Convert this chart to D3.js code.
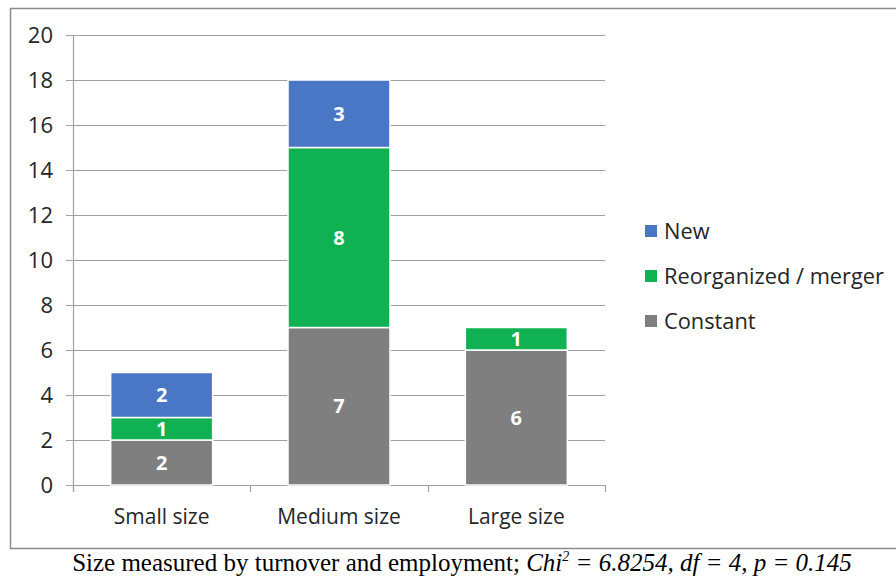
<!DOCTYPE html>
<html>
<head>
<meta charset="utf-8">
<script src="https://cdn.jsdelivr.net/npm/d3@7"></script>
<style>
  body { margin: 0; background: #fff; }
  text { font-family: "Open Sans", "Noto Sans", sans-serif; }
</style>
</head>
<body>
<svg id="chart" width="896" height="576"></svg>
<script>
// data
var categories = ["Small size", "Medium size", "Large size"];
var seriesNames = ["Constant", "Reorganized / merger", "New"];
var constantVals = [2, 7, 6];
var reorgVals = [1, 8, 1];
var newVals = [2, 3, 0];
var yTicks = [0, 2, 4, 6, 8, 10, 12, 14, 16, 18, 20];
var colors = ["#7f7f7f", "#0fb152", "#4a76c6"];

var svg = d3.select("#chart");

// outer frame (right side runs off the page)
svg.append("path")
    .attr("d", "M 900 8.5 L 10.5 8.5 L 10.5 548.5 L 900 548.5")
    .attr("fill", "none")
    .attr("stroke", "#8c8c8c")
    .attr("stroke-width", 1.5);

var plotLeft = 73, plotRight = 605, plotTop = 35, plotBottom = 485;

var x = d3.scaleBand().domain(categories).range([plotLeft, plotRight]).paddingInner(0.425).paddingOuter(0.2125);
var y = d3.scaleLinear().domain([0, 20]).range([plotBottom, plotTop]);

// gridlines
svg.append("g").selectAll("line")
    .data(yTicks)
    .enter().append("line")
    .attr("x1", plotLeft - 7).attr("x2", plotRight)
    .attr("y1", function(d){ return Math.round(y(d)) + 0.5; })
    .attr("y2", function(d){ return Math.round(y(d)) + 0.5; })
    .attr("stroke", "#a0a0a0")
    .attr("stroke-width", 1.2);

// y labels
svg.append("g").selectAll("text")
    .data(yTicks)
    .enter().append("text")
    .attr("x", 53)
    .attr("y", function(d){ return y(d); })
    .attr("dy", "0.36em")
    .attr("text-anchor", "end")
    .attr("font-size", 22)
    .attr("fill", "#262626")
    .text(function(d){ return d; });

// stack
var rows = categories.map(function(c, i){
    return { cat: c, Constant: constantVals[i], "Reorganized / merger": reorgVals[i], New: newVals[i] };
});
var stack = d3.stack().keys(seriesNames)(rows);

var layers = svg.append("g").selectAll("g")
    .data(stack)
    .enter().append("g")
    .attr("fill", function(d, i){ return colors[i]; });

layers.selectAll("rect")
    .data(function(d){ return d.filter(function(p){ return p[1] > p[0]; }); })
    .enter().append("rect")
    .attr("x", function(d){ return x(d.data.cat); })
    .attr("width", x.bandwidth())
    .attr("y", function(d){ return y(d[1]); })
    .attr("height", function(d){ return y(d[0]) - y(d[1]); })
    .attr("stroke", "#ffffff")
    .attr("stroke-width", 1.5);

layers.selectAll("text")
    .data(function(d){ return d.filter(function(p){ return p[1] > p[0]; }); })
    .enter().append("text")
    .attr("x", function(d){ return x(d.data.cat) + x.bandwidth() / 2; })
    .attr("y", function(d){ return (y(d[0]) + y(d[1])) / 2; })
    .attr("dy", "0.36em")
    .attr("text-anchor", "middle")
    .attr("font-size", 20)
    .attr("font-weight", "bold")
    .attr("fill", "#ffffff")
    .text(function(d){ return d[1] - d[0]; });

// axes lines
svg.append("line")
    .attr("x1", plotLeft + 0.5).attr("x2", plotLeft + 0.5)
    .attr("y1", plotTop).attr("y2", plotBottom + 7)
    .attr("stroke", "#a0a0a0").attr("stroke-width", 1.2);

var bandEdges = [0, 1, 2, 3].map(function(i){ return plotLeft + i * x.step(); });
svg.append("g").selectAll("line")
    .data(bandEdges)
    .enter().append("line")
    .attr("x1", function(d){ return Math.round(d) + 0.5; })
    .attr("x2", function(d){ return Math.round(d) + 0.5; })
    .attr("y1", plotBottom).attr("y2", plotBottom + 7)
    .attr("stroke", "#a0a0a0").attr("stroke-width", 1.2);

// x labels
svg.append("g").selectAll("text")
    .data(categories)
    .enter().append("text")
    .attr("x", function(d){ return x(d) + x.bandwidth() / 2; })
    .attr("y", 524)
    .attr("text-anchor", "middle")
    .attr("font-size", 21)
    .attr("fill", "#262626")
    .text(function(d){ return d; });

// legend (reverse order)
var legendItems = seriesNames.slice().reverse();
var legendColors = colors.slice().reverse();
var legend = svg.append("g").selectAll("g")
    .data(legendItems)
    .enter().append("g")
    .attr("transform", function(d, i){ return "translate(645," + (231 + i * 45) + ")"; });
legend.append("rect")
    .attr("x", 0).attr("y", -6)
    .attr("width", 12).attr("height", 12)
    .attr("fill", function(d, i){ return legendColors[i]; });
legend.append("text")
    .attr("x", 19)
    .attr("dy", "0.36em")
    .attr("font-size", 21.8)
    .attr("fill", "#262626")
    .text(function(d){ return d; });

// caption
var cap = svg.append("text")
    .attr("x", 462)
    .attr("y", 571)
    .attr("text-anchor", "middle")
    .attr("font-size", 25)
    .attr("fill", "#000")
    .style("font-family", "'Liberation Serif', 'DejaVu Serif', serif");
cap.append("tspan").text("Size measured by turnover and employment; ");
cap.append("tspan").attr("font-style", "italic").text("Chi");
cap.append("tspan").attr("font-style", "italic").attr("font-size", 14).attr("dy", -10).text("2");
cap.append("tspan").attr("font-style", "italic").attr("dy", 10).text(" = 6.8254, df = 4, p = 0.145");
</script>
</body>
</html>
